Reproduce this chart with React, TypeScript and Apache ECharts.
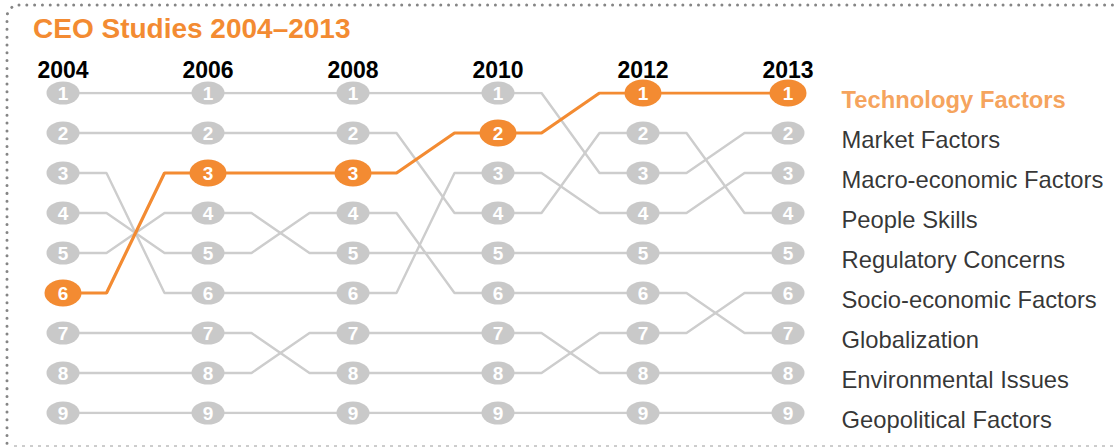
import React, { useEffect, useRef } from "react";
import * as echarts from "echarts";

const title = "CEO Studies 2004–2013";
const years = ["2004", "2006", "2008", "2010", "2012", "2013"];
const factors = [
  "Technology Factors",
  "Market Factors",
  "Macro-economic Factors",
  "People Skills",
  "Regulatory Concerns",
  "Socio-economic Factors",
  "Globalization",
  "Environmental Issues",
  "Geopolitical Factors",
];
const technologyRanks = [6, 3, 3, 2, 1, 1];
const marketRanks = [1, 1, 1, 1, 3, 2];
const macroRanks = [3, 6, 6, 3, 4, 3];
const peopleRanks = [2, 2, 2, 4, 2, 4];
const regulatoryRanks = [5, 4, 5, 5, 5, 5];
const socioRanks = [7, 7, 8, 8, 7, 6];
const globalizationRanks = [4, 5, 4, 6, 6, 7];
const environmentalRanks = [8, 8, 7, 7, 8, 8];
const geopoliticalRanks = [9, 9, 9, 9, 9, 9];
const highlighted = "Technology Factors";

const rankTable = [
  technologyRanks,
  marketRanks,
  macroRanks,
  peopleRanks,
  regulatoryRanks,
  socioRanks,
  globalizationRanks,
  environmentalRanks,
  geopoliticalRanks,
];

const ORANGE = "#f38b32";
const GRAY_LINE = "#cdcdcd";
const GRAY_NODE = "#c9c9c9";
const FONT = '"Liberation Sans", Arial, sans-serif';
const SHOULDER = 0.3;
const ELLIPSE = "path://M-1,0a1,1 0 1,0 2,0a1,1 0 1,0 -2,0z";

function bumpPath(ranks: number[]) {
  const pts: number[][] = [];
  ranks.forEach((r, i) => {
    if (i > 0) pts.push([i - SHOULDER, r]);
    pts.push([i, r]);
    if (i < ranks.length - 1) pts.push([i + SHOULDER, r]);
  });
  return pts;
}

export default function App() {
  const ref = useRef<HTMLDivElement>(null);
  useEffect(() => {
    if (!ref.current) return;
    const chart = echarts.init(ref.current, undefined, { renderer: "svg" });
    const series: any[] = [];
    factors.forEach((name, k) => {
      const hi = name === highlighted;
      series.push({
        type: "line",
        name,
        data: bumpPath(rankTable[k]),
        symbol: "none",
        silent: true,
        z: hi ? 3 : 2,
        lineStyle: { color: hi ? ORANGE : GRAY_LINE, width: hi ? 3.2 : 2.4 },
      });
    });
    factors.forEach((name, k) => {
      const hi = name === highlighted;
      series.push({
        type: "scatter",
        name: name + " nodes",
        data: rankTable[k].map((r, i) => [i, r]),
        symbol: ELLIPSE,
        symbolSize: hi ? [37, 27] : [33, 23],
        z: hi ? 5 : 4,
        itemStyle: { color: hi ? ORANGE : GRAY_NODE, opacity: 1 },
        label: {
          show: true,
          position: "inside",
          formatter: (p: any) => String(p.value[1]),
          color: "#ffffff",
          fontWeight: "bold",
          fontSize: 19,
          fontFamily: FONT,
        },
      });
    });
    factors.forEach((name, k) => {
      const hi = name === highlighted;
      const ranks = rankTable[k];
      series.push({
        type: "scatter",
        name: name + " label",
        data: [[ranks.length - 1, ranks[ranks.length - 1], name]],
        symbolSize: 1,
        z: 1,
        itemStyle: { color: "rgba(0,0,0,0)" },
        label: {
          show: true,
          position: "right",
          distance: 53,
          offset: [0, 6],
          formatter: (p: any) => p.value[2],
          color: hi ? ORANGE : "#000000",
          fontWeight: hi ? "bold" : "normal",
          fontSize: 23.8,
          fontFamily: FONT,
        },
      });
    });

    chart.setOption({
      animation: false,
      backgroundColor: "#ffffff",
      title: {
        text: title,
        left: 28,
        top: 9,
        textStyle: { color: ORANGE, fontSize: 28, fontWeight: "bold", fontFamily: FONT },
      },
      grid: { left: 63, top: 93, width: 725, height: 320 },
      xAxis: {
        type: "value",
        position: "top",
        min: 0,
        max: years.length - 1,
        interval: 1,
        axisLine: { show: false },
        axisTick: { show: false },
        splitLine: { show: false },
        axisLabel: {
          margin: 12,
          formatter: (v: number) => years[v] ?? "",
          color: "#000000",
          fontWeight: "bold",
          fontSize: 23,
          fontFamily: FONT,
        },
      },
      yAxis: {
        type: "value",
        inverse: true,
        min: 1,
        max: 9,
        interval: 1,
        show: false,
      },
      graphic: [
        {
          type: "rect",
          silent: true,
          shape: { x: 7, y: 5, width: 1200, height: 470, r: [12, 0, 0, 0] },
          style: {
            fill: "none",
            stroke: "#858585",
            lineWidth: 3,
            lineDash: [0.01, 7.8],
            lineCap: "round",
          },
        },
        {
          type: "line",
          silent: true,
          shape: { x1: 14, y1: 446, x2: 1117, y2: 446 },
          style: { stroke: "#9a9a9a", lineWidth: 1, lineDash: [3, 5] },
        },
      ],
      series,
    });
    return () => chart.dispose();
  }, []);
  return (
    <div
      ref={ref}
      style={{ position: "fixed", left: 0, top: 0, width: 1117, height: 447 }}
    />
  );
}
